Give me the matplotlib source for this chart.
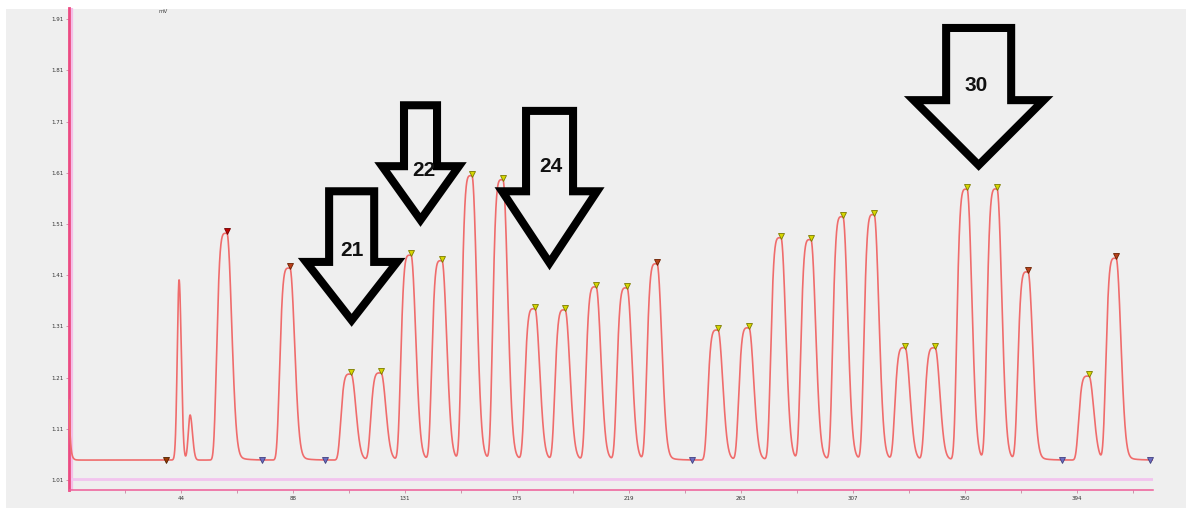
import numpy as np
import matplotlib
matplotlib.use("Agg")
import matplotlib.pyplot as plt
from matplotlib.patches import Polygon, Rectangle
from matplotlib.lines import Line2D

# ---- chromatogram data -------------------------------------------------
baseline = 1.049

# sharp injection peak and its small shoulder
spike_pos = [43.0, 47.3]
spike_val = [1.401, 1.137]

# labelled peaks: retention position, apex value, marker kind
peak_pos = [61.7, 86.3, 110.2, 121.9, 133.6, 145.7, 157.4, 169.5, 182.0, 193.8,
            205.9, 218.0, 229.7, 253.5, 265.6, 278.1, 289.8, 302.3, 314.5, 326.6,
            338.3, 350.8, 362.5, 374.6, 398.4, 409.0]
peak_val = [1.492, 1.424, 1.217, 1.219, 1.449, 1.438, 1.604, 1.596, 1.344, 1.342,
            1.387, 1.385, 1.432, 1.303, 1.307, 1.483, 1.479, 1.524, 1.528, 1.268,
            1.268, 1.578, 1.578, 1.416, 1.213, 1.443]
peak_kind = ["red", "brown", "y", "y", "y", "y", "y", "y", "y", "y",
             "y", "y", "brown", "y", "y", "y", "y", "y", "y", "y",
             "y", "y", "y", "brown", "y", "brown"]

# integration boundary markers on the baseline
valley_pos = [37.9, 75.4, 100.0, 243.4, 387.9, 422.3]
valley_kind = ["start", "end", "end", "end", "end", "end"]

# y axis ticks
ytick_vals = [1.01 + 0.1 * i for i in range(10)]
# x axis ticks
xtick_vals = [43.75, 87.5, 131.25, 175.0, 218.75, 262.5, 306.25, 350.0, 393.75]
xtick_labels = ["44", "88", "131", "175", "219", "263", "307", "350", "394"]

# annotated peak numbers
arrow_labels = ["21", "22", "24", "30"]

X_MAX = 423.4
Y_MIN, Y_MAX = 0.9905, 1.932

marker_colors = {"y": ("#d6d600", "#7a7a00"),
                 "red": ("#c00000", "#700000"),
                 "brown": ("#b8401a", "#6a2000"),
                 "start": ("#9a3a00", "#502000"),
                 "end": ("#6c6cc0", "#404080")}


def peak_shape(x, c, h, wl, wr, pl, pr, tail=0.0, tau=3.0):
    d = x - c
    left = np.exp(-(np.abs(d) / wl) ** pl)
    right = np.exp(-(np.abs(d) / wr) ** pr)
    y = np.where(d < 0, left, right)
    if tail:
        y = y + np.where(d > 0, tail * (1 - right) * np.exp(-d / tau), 0.0)
    return h * y


x = np.linspace(0, X_MAX, 8000)
signal = np.full_like(x, baseline)
signal += 0.117 * np.exp(-x / 0.5)
signal += peak_shape(x, spike_pos[0], spike_val[0] - baseline, 1.0, 1.2, 2, 2)
signal += peak_shape(x, spike_pos[1], spike_val[1] - baseline, 1.0, 1.3, 2, 2)
for c, v in zip(peak_pos, peak_val):
    signal += peak_shape(x, c, v - baseline, 4.3, 2.55, 5, 2, tail=0.05, tau=3.0)

# ---- figure -----------------------------------------------------------
W, H = 1198, 519
fig = plt.figure(figsize=(W / 100, H / 100), dpi=100, facecolor="white")
fig.add_artist(Rectangle((6 / W, 1 - 508 / H), 1180 / W, 499 / H,
                         transform=fig.transFigure, facecolor="#efefef",
                         edgecolor="none", zorder=-10))

ax = fig.add_axes([69 / W, 1 - 490 / H, (1153 - 69) / W, (490 - 8) / H])
ax.set_facecolor("none")
ax.set_xlim(0, X_MAX)
ax.set_ylim(Y_MIN, Y_MAX)

for s in ("top", "right"):
    ax.spines[s].set_visible(False)
ax.spines["left"].set_color("#ec4a82")
ax.spines["left"].set_linewidth(2.0)
ax.spines["bottom"].set_color("#ee5c98")
ax.spines["bottom"].set_linewidth(1.1)

# secondary light guide lines
ax.axvline(1.0, color="#f5bde8", lw=1.6, zorder=1)
ax.axhline(1.012, color="#f2c4ee", lw=2.0, zorder=1)

ax.set_yticks(ytick_vals)
ax.set_yticklabels([f"{v:.2f}" for v in ytick_vals])
ax.set_xticks(xtick_vals)
ax.set_xticklabels(xtick_labels)
ax.set_xticks([21.875 + 43.75 * i for i in range(10)], minor=True)
ax.tick_params(axis="both", which="major", length=2, width=0.5,
               color="#c07090", labelsize=4, labelcolor="#333333", pad=2)
ax.tick_params(axis="x", which="minor", length=2, width=0.5, color="#c07090")

ax.plot(x, signal, color="#ef6c6c", lw=1.2, zorder=3)

for c, v, k in zip(peak_pos, peak_val, peak_kind):
    fc, ec = marker_colors[k]
    ax.plot([c], [v + 0.004], marker="v", ms=4.5, mfc=fc, mec=ec, mew=0.6,
            ls="none", zorder=5)
for c, k in zip(valley_pos, valley_kind):
    fc, ec = marker_colors[k]
    ax.plot([c], [baseline], marker="v", ms=4.5, mfc=fc, mec=ec, mew=0.6,
            ls="none", zorder=5)

ax.text(36.7, 1.926, "mV", fontsize=4, color="#444444", ha="center", va="center")


def down_arrow(cx, shaft_hw, head_hw, top, neck, tip):
    return [(cx - shaft_hw, top), (cx + shaft_hw, top), (cx + shaft_hw, neck),
            (cx + head_hw, neck), (cx, tip), (cx - head_hw, neck),
            (cx - shaft_hw, neck)]


arrow_geom = [
    (110.4, 8.8, 17.8, 1.574, 1.436, 1.322),
    (137.3, 6.45, 15.0, 1.742, 1.623, 1.518),
    (187.7, 9.18, 18.55, 1.731, 1.574, 1.434),
    (355.3, 12.7, 25.4, 1.893, 1.752, 1.625),
]
label_xy = [(110.7, 1.459), (138.7, 1.615), (188.3, 1.623), (354.3, 1.781)]

for geom, lab, (tx, ty) in zip(arrow_geom, arrow_labels, label_xy):
    poly = Polygon(down_arrow(*geom), closed=True, facecolor="#efefef",
                   edgecolor="black", lw=5.8, joinstyle="miter", zorder=6)
    ax.add_patch(poly)
    ax.text(tx, ty, lab, fontsize=15, fontweight="bold", color="#111111",
            family="Liberation Sans", ha="center", va="center", zorder=7)

fig.savefig("out.png", dpi=100, facecolor="white")
